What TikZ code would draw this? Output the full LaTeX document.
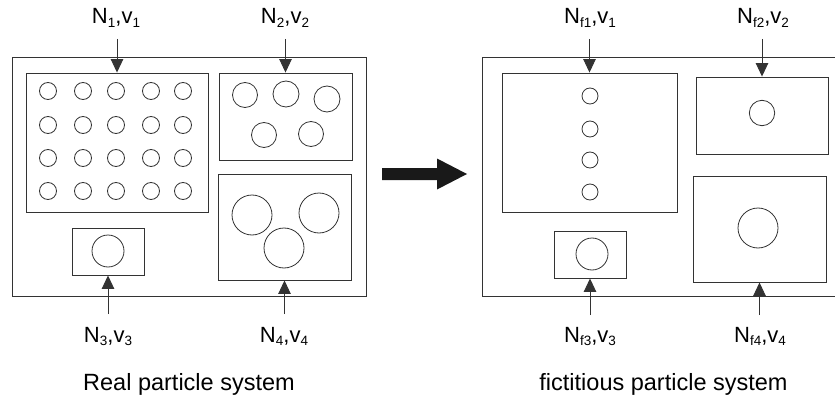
\documentclass[tikz,border=0pt]{standalone}
\usepackage{fontspec}
\setmainfont{Liberation Sans}
\usetikzlibrary{arrows.meta,fit}

% lowered index digit for the N,v labels
\newcommand{\idx}[1]{\raisebox{-3.5pt}{\fontsize{13.5}{14}\selectfont #1}}

\tikzset{
  ln/.style={draw=black!80, line width=0.9pt},
  box/.style={ln, inner sep=0pt, fill=none},
  ptcl/.style={ln, line width=0.8pt},
  lab/.style={anchor=base, inner sep=0pt, font=\fontsize{22}{26}\selectfont},
  capt/.style={anchor=base, inner sep=0pt, font=\fontsize{23.5}{28}\selectfont},
  arr/.style={ln, -{Triangle[length=13.5pt,width=12.5pt]}},
}

\begin{document}
\begin{tikzpicture}[x=1pt, y=-1pt]
\useasboundingbox (0,0) rectangle (835,401);
\clip (0,0) rectangle (835,401);

% ---------------- real particle system ----------------
\node[box, fit={(12.7,57) (366,296)}] (outerL) {};
\node[box, fit={(26,73) (208,212)}]   (b1) {};
\node[box, fit={(219,73) (352,160)}]  (b2) {};
\node[box, fit={(72,228) (144,275)}]  (b3) {};
\node[box, fit={(218,174) (351,280)}] (b4) {};

% particles of group 1: 5 x 4 lattice
\foreach \cx in {48,83,116,151,183}
  \foreach \cy in {91,125,158,191}
    \draw[ptcl] (\cx,\cy) circle (8.5);
% group 2
\draw[ptcl] (245,95) circle (12.5);
\draw[ptcl] (286,94) circle (13);
\draw[ptcl] (327,99) circle (13);
\draw[ptcl] (264,135) circle (12.5);
\draw[ptcl] (311,134) circle (12.5);
% group 3
\draw[ptcl] (108,251) circle (16);
% group 4
\draw[ptcl] (252,215) circle (20);
\draw[ptcl] (319,213) circle (20);
\draw[ptcl] (284,248) circle (20);

\node[lab] (l1) at (116,24)  {N\idx{1},v\idx{1}};
\node[lab] (l2) at (285,24)  {N\idx{2},v\idx{2}};
\node[lab] (l3) at (108,342) {N\idx{3},v\idx{3}};
\node[lab] (l4) at (284,342) {N\idx{4},v\idx{4}};

\coordinate (s1) at (b1.north |- 0,39);
\coordinate (s2) at (b2.north |- 0,39);
\coordinate (s3) at (b3.south |- 0,314);
\coordinate (s4) at (b4.south |- 0,314);
\draw[arr] (s1) -- (b1.north);
\draw[arr] (s2) -- (b2.north);
\draw[arr] (s3) -- (b3.south);
\draw[arr] (s4) -- (b4.south);

\node[capt] (capL) at (189,390) {Real particle system};

% ---------------- transition arrow ----------------
\fill[black!90] (382,168) -- (437,168) -- (437,158.5) -- (467,174)
  -- (437,189.5) -- (437,180) -- (382,180) -- cycle;

% ---------------- fictitious particle system ----------------
\node[box, fit={(482,57) (850,296)}]  (outerR) {};
\node[box, fit={(502,73) (677,212)}]  (f1) {};
\node[box, fit={(696,77) (828,154)}]  (f2) {};
\node[box, fit={(554,231) (626,278)}] (f3) {};
\node[box, fit={(693,176) (826,282)}] (f4) {};

\foreach \cy in {96,129,160,192}
  \draw[ptcl] (590,\cy) circle (8);
\draw[ptcl] (762,113) circle (12.7);
\draw[ptcl] (592,254) circle (16);
\draw[ptcl] (758,228) circle (20);

\node[lab] (m1) at (590,24)  {N\idx{f1},v\idx{1}};
\node[lab] (m2) at (763,24)  {N\idx{f2},v\idx{2}};
\node[lab] (m3) at (590,342) {N\idx{f3},v\idx{3}};
\node[lab] (m4) at (760,342) {N\idx{f4},v\idx{4}};

\coordinate (t1) at (f1.north |- 0,39);
\coordinate (t2) at (f2.north |- 0,39);
\coordinate (t3) at (f3.south |- 0,315);
\coordinate (t4) at (f4.south |- 0,315);
\draw[arr] (t1) -- (f1.north);
\draw[arr] (t2) -- (f2.north);
\draw[arr] (t3) -- (f3.south);
\draw[arr] (t4) -- (f4.south);

\node[capt] (capR) at (663.5,390) {fictitious particle system};
\end{tikzpicture}
\end{document}
